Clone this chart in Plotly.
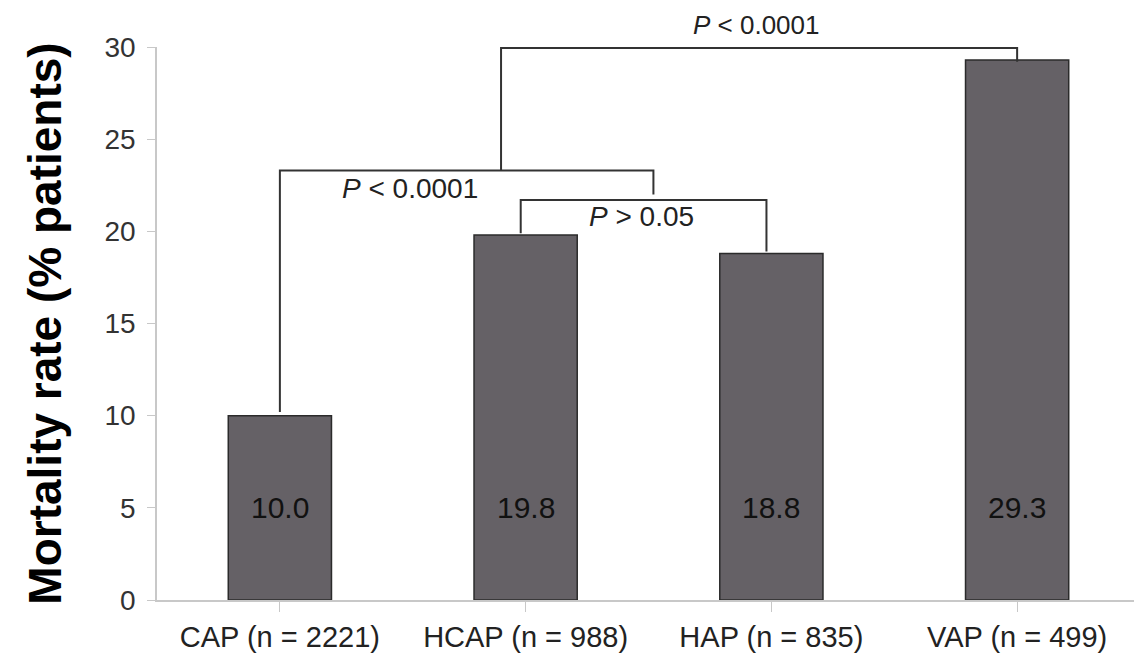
import plotly.graph_objects as go

categories = ["CAP (n = 2221)", "HCAP (n = 988)", "HAP (n = 835)", "VAP (n = 499)"]
mortality = [10.0, 19.8, 18.8, 29.3]
bar_labels = ["10.0", "19.8", "18.8", "29.3"]
label_level = 5.0

# brackets: (x_left, x_right, y_top, y_left_end, y_right_end)
brackets = [
    (0.0, 1.52, 23.3, 10.2, 22.0),
    (0.98, 1.98, 21.7, 19.9, 18.9),
    (0.90, 3.0, 29.95, 23.3, 29.2),
]
p_labels = ["<i>P</i> < 0.0001", "<i>P</i> > 0.05", "<i>P</i> < 0.0001"]
p_label_x = [0.53, 1.47, 1.94]
p_label_y = [22.3, 20.8, 31.2]
p_label_size = [28, 28, 26]

Y_MAX = 30
FONT = "Liberation Sans, Arial, sans-serif"

fig = go.Figure()
fig.add_trace(go.Bar(
    x=list(range(len(categories))),
    y=mortality,
    width=0.42,
    marker=dict(color="#656166", line=dict(color="#2b2b2b", width=1.5)),
    showlegend=False,
    hoverinfo="skip",
))

for i, t in enumerate(bar_labels):
    fig.add_annotation(x=i, y=label_level, text=t, showarrow=False,
                       font=dict(family=FONT, size=30, color="#111111"))

for (x0, x1, yt, yl, yr) in brackets:
    fig.add_shape(type="path",
                  path=f"M {x0} {yl} L {x0} {yt} L {x1} {yt} L {x1} {yr}",
                  xref="x", yref="y", line=dict(color="#333333", width=2))

for t, x, y, s in zip(p_labels, p_label_x, p_label_y, p_label_size):
    fig.add_annotation(x=x, y=y / Y_MAX, xref="x", yref="paper", text=t,
                       showarrow=False, xanchor="center", yanchor="middle",
                       font=dict(family=FONT, size=s, color="#222222"))

fig.update_layout(
    width=1134, height=656,
    margin=dict(l=149, r=2, t=39, b=64),
    plot_bgcolor="white", paper_bgcolor="white",
    font=dict(family=FONT, color="#333333"),
)
fig.update_xaxes(
    range=[-0.5, 3.5],
    tickvals=list(range(len(categories))),
    ticktext=categories,
    tickfont=dict(size=29, color="#222222"),
    showline=True, linecolor="#c8c8c8", linewidth=1.5,
    ticks="outside", ticklen=10, tickcolor="#c8c8c8",
    tickson="boundaries",
    showgrid=False, zeroline=False, automargin=False,
)
fig.update_yaxes(
    range=[0, Y_MAX],
    tickvals=[0, 5, 10, 15, 20, 25, 30],
    tickfont=dict(size=28, color="#333333"),
    showline=True, linecolor="#c8c8c8", linewidth=1.5,
    ticks="outside", ticklen=8, tickcolor="#c8c8c8",
    ticklabelstandoff=6,
    showgrid=False, zeroline=False, automargin=False,
    title=dict(text="<b>Mortality rate (% patients)</b>",
               font=dict(family=FONT, size=46, color="#000000"), standoff=28),
)

fig.write_html("out.html")
